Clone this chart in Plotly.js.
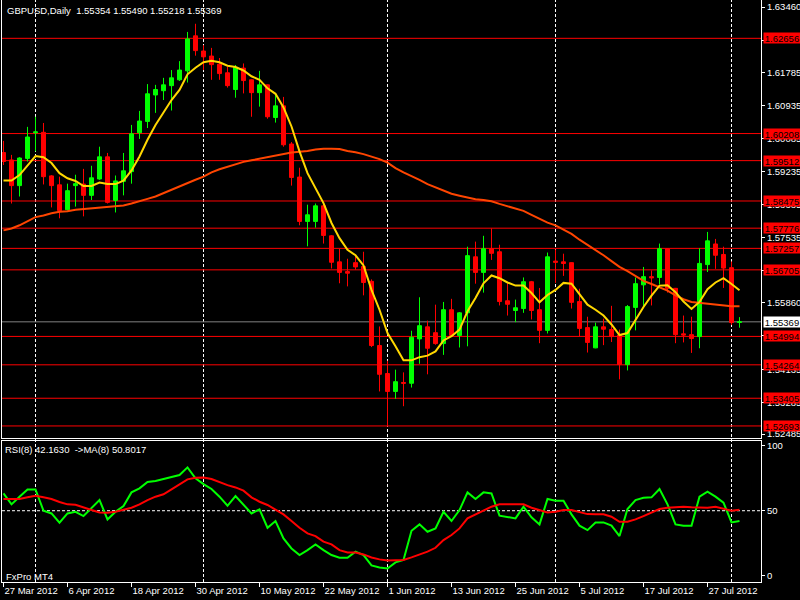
<!DOCTYPE html>
<html><head><meta charset="utf-8">
<script src="https://cdn.plot.ly/plotly-3.0.1.min.js"></script>
<style>html,body{margin:0;padding:0;background:#000;} #chart{width:800px;height:600px;}</style>
</head><body><div id="chart"></div>
<script>
const symbol = 'GBPUSD,Daily';
const openP = [1.5972,1.5953,1.5887,1.5957,1.6023,1.6024,1.5912,1.5889,1.5825,1.5887,
1.5891,1.5862,1.5904,1.5961,1.5849,1.5898,1.5923,1.6023,1.6052,1.6120,
1.6131,1.6144,1.6159,1.6182,1.6272,1.6233,1.6220,1.6199,1.6177,1.6134,
1.6189,1.6159,1.6126,1.6146,1.6062,1.6092,1.5994,1.5909,1.5795,1.5795,
1.5835,1.5758,1.5691,1.5666,1.5689,1.5679,1.5641,1.5476,1.5404,1.5358,
1.5381,1.5379,1.5493,1.5524,1.5509,1.5481,1.5568,1.5502,1.5560,1.5704,
1.5664,1.5725,1.5717,1.5591,1.5566,1.5571,1.5640,1.5568,1.5515,1.5693,
1.5691,1.5689,1.5589,1.5522,1.5470,1.5524,1.5517,1.5503,1.5427,1.5574,
1.5632,1.5653,1.5651,1.5725,1.5623,1.5506,1.5504,1.5499,1.5684,1.5737,
1.5710,1.5676,1.55354];
const highP = [1.6002,1.5966,1.5960,1.6038,1.6064,1.6048,1.5914,1.5910,1.5892,1.5915,
1.5930,1.5938,1.5987,1.5971,1.5913,1.5971,1.6043,1.6079,1.6148,1.6146,
1.6164,1.6184,1.6207,1.6282,1.6303,1.6248,1.6241,1.6215,1.6192,1.6197,
1.6201,1.6160,1.6182,1.6147,1.6123,1.6115,1.5999,1.5933,1.5838,1.5841,
1.5838,1.5760,1.5725,1.5699,1.5705,1.5717,1.5646,1.5525,1.5437,1.5414,
1.5407,1.5514,1.5600,1.5540,1.5581,1.5588,1.5596,1.5562,1.5730,1.5743,
1.5758,1.5777,1.5735,1.5636,1.5594,1.5651,1.5642,1.5624,1.5715,1.5723,
1.5712,1.5690,1.5622,1.5550,1.5535,1.5545,1.5578,1.5517,1.5580,1.5651,
1.5678,1.5669,1.5738,1.5726,1.5624,1.5553,1.5550,1.5726,1.5768,1.5750,
1.5730,1.5692,1.55490];
const lowP = [1.5940,1.5841,1.5859,1.5949,1.5975,1.5890,1.5831,1.5803,1.5823,1.5833,
1.5808,1.5850,1.5902,1.5841,1.5818,1.5862,1.5892,1.6007,1.6035,1.6074,
1.6107,1.6080,1.6156,1.6152,1.6221,1.6184,1.6159,1.6159,1.6139,1.6113,
1.6124,1.6064,1.6090,1.6059,1.6049,1.5987,1.5887,1.5785,1.5731,1.5779,
1.5738,1.5674,1.5636,1.5628,1.5671,1.5605,1.5472,1.5358,1.5268,1.5339,
1.5320,1.5368,1.5429,1.5402,1.5478,1.5452,1.5499,1.5471,1.5474,1.5635,
1.5612,1.5696,1.5579,1.5553,1.5536,1.5560,1.5543,1.5482,1.5507,1.5637,
1.5655,1.5571,1.5499,1.5458,1.5469,1.5477,1.5485,1.5389,1.5412,1.5515,
1.5575,1.5579,1.5633,1.5612,1.5482,1.5484,1.5457,1.5469,1.5665,1.5673,
1.5624,1.5529,1.55218];
const closeP = [1.5949,1.5887,1.5958,1.6012,1.6025,1.5910,1.5887,1.5823,1.5874,1.5892,
1.5862,1.5907,1.5961,1.5844,1.5899,1.5925,1.6020,1.6053,1.6123,1.6134,
1.6146,1.6164,1.6184,1.6264,1.6234,1.6218,1.6198,1.6175,1.6144,1.6191,
1.6157,1.6126,1.6146,1.6064,1.6092,1.5992,1.5908,1.5795,1.5812,1.5835,
1.5759,1.5690,1.5664,1.5662,1.5678,1.5638,1.5476,1.5402,1.5358,1.5383,
1.5379,1.5497,1.5527,1.5469,1.5481,1.5568,1.5502,1.5560,1.5707,1.5664,
1.5725,1.5713,1.5589,1.5582,1.5573,1.5640,1.5566,1.5515,1.5704,1.5690,
1.5687,1.5587,1.5520,1.5484,1.5524,1.5518,1.5499,1.5427,1.5576,1.5635,
1.5653,1.5650,1.5725,1.5623,1.5504,1.5503,1.5494,1.5687,1.5745,1.5708,
1.5675,1.5535,1.55369];
const maFast = [1.5900,1.5900,1.5914,1.5939,1.5963,1.5960,1.5945,1.5919,1.5906,1.5899,
1.5886,1.5886,1.5895,1.5891,1.5891,1.5900,1.5926,1.5962,1.6005,1.6043,
1.6076,1.6107,1.6133,1.6173,1.6190,1.6204,1.6208,1.6204,1.6195,1.6192,
1.6183,1.6168,1.6159,1.6137,1.6123,1.6088,1.6039,1.5975,1.5919,1.5880,
1.5842,1.5791,1.5752,1.5722,1.5708,1.5682,1.5619,1.5568,1.5508,1.5474,
1.5438,1.5438,1.5446,1.5450,1.5461,1.5489,1.5500,1.5517,1.5564,1.5598,
1.5636,1.5656,1.5649,1.5638,1.5630,1.5630,1.5611,1.5587,1.5606,1.5619,
1.5637,1.5635,1.5609,1.5581,1.5568,1.5553,1.5530,1.5503,1.5508,1.5542,
1.5575,1.5604,1.5630,1.5631,1.5613,1.5589,1.5570,1.5588,1.5621,1.5638,
1.5649,1.5634,1.5618];
const maSlow = [1.5772,1.5777,1.5785,1.5795,1.5806,1.5810,1.5816,1.5820,1.5821,1.5825,
1.5827,1.5828,1.5831,1.5833,1.5834,1.5836,1.5841,1.5846,1.5853,1.5859,
1.5868,1.5876,1.5885,1.5893,1.5902,1.5910,1.5921,1.5929,1.5936,1.5943,
1.5948,1.5952,1.5956,1.5959,1.5963,1.5968,1.5972,1.5974,1.5976,1.5980,
1.5982,1.5982,1.5981,1.5976,1.5973,1.5968,1.5962,1.5955,1.5946,1.5932,
1.5921,1.5912,1.5902,1.5891,1.5882,1.5874,1.5866,1.5861,1.5856,1.5852,
1.5850,1.5847,1.5840,1.5834,1.5828,1.5822,1.5812,1.5801,1.5792,1.5785,
1.5773,1.5763,1.5748,1.5735,1.5722,1.5708,1.5693,1.5678,1.5667,1.5654,
1.5642,1.5634,1.5626,1.5617,1.5605,1.5595,1.5588,1.5586,1.5584,1.5581,
1.5579,1.5577,1.5577];
const rsi = [63.3,54.9,60.8,66.4,66.4,50.0,47.9,40.8,47.9,49.2,
45.9,51.8,58.2,43.3,49.2,53.6,64.1,67.2,72.1,72.8,
74.4,75.6,77.4,83.3,74.9,70.5,66.7,60.8,53.8,61.3,
54.4,47.9,51.0,36.9,42.1,28.7,21.0,15.9,19.7,24.1,
19.7,15.9,13.8,13.8,18.5,15.9,7.9,6.4,5.6,10.3,
12.1,34.6,39.5,33.8,36.4,49.2,42.1,50.5,64.1,59.0,
64.1,63.3,46.2,45.4,44.1,53.1,44.9,39.5,59.0,57.7,
57.7,47.2,38.5,35.1,41.0,41.0,38.5,30.5,51.3,58.2,
60.0,60.3,66.7,54.9,39.5,38.5,38.5,60.8,64.6,60.8,
56.2,41.0,42.1630];
const rsiMa = [59.0,59.0,59.0,60.3,61.5,60.3,59.0,56.7,54.9,54.6,
52.3,50.5,48.7,48.5,49.2,50.5,52.3,54.9,58.2,60.8,
62.6,66.4,70.5,74.1,75.4,75.6,74.4,71.8,69.7,67.9,
65.4,60.3,56.9,54.4,51.0,47.2,42.1,36.9,32.6,30.5,
26.2,24.1,19.7,17.9,17.9,16.4,14.1,12.6,11.8,11.8,
12.1,14.1,16.4,18.5,21.5,27.4,31.3,36.4,44.1,47.2,
50.5,53.1,54.9,54.9,54.9,54.9,52.3,50.5,48.7,49.2,
50.5,50.5,49.2,47.4,47.2,47.2,45.4,41.5,41.5,43.3,
45.9,48.7,51.3,52.3,52.6,53.1,52.6,52.3,52.3,53.1,
51.3,50.0,50.8017];
const dateTickBars = [0,8,16,24,32,40,48,56,64,72,80,88];
const dateTickLabels = ['27 Mar 2012','6 Apr 2012','18 Apr 2012','30 Apr 2012','10 May 2012','22 May 2012',
  '1 Jun 2012','13 Jun 2012','25 Jun 2012','5 Jul 2012','17 Jul 2012','27 Jul 2012'];
const monthStartBars = [4,25,48,69,91];
const priceTicks = [1.63460,1.62610,1.61785,1.60935,1.60085,1.59235,1.58385,1.57535,1.56685,1.55860,1.55010,1.54135,1.53285,1.52485];
const levels = [1.62656,1.60208,1.59512,1.58475,1.57776,1.57257,1.56705,1.54994,1.54264,1.53405,1.52693];
const rsiTicks = [0,50,100];
const rsiLevel = 50;

const FONT = '"Liberation Sans", Arial, sans-serif';
const FS = 9.5;
const WHITE = '#FFFFFF';
const bars = openP.map((_, i) => i);
const last = openP.length - 1;
const xr = [-0.1875, 94.6875];

const traces = [
  {type:'candlestick', x:bars, open:openP, high:highP, low:lowP, close:closeP,
   xaxis:'x', yaxis:'y', whiskerwidth:0,
   increasing:{line:{color:'#00FF00', width:1}, fillcolor:'#00FF00'},
   decreasing:{line:{color:'#FF0000', width:1}, fillcolor:'#FF0000'},
   hoverinfo:'skip'},
  {type:'scatter', mode:'lines', x:bars, y:maSlow, xaxis:'x', yaxis:'y',
   line:{color:'#FF4500', width:2}, hoverinfo:'skip'},
  {type:'scatter', mode:'lines', x:bars, y:maFast, xaxis:'x', yaxis:'y',
   line:{color:'#FFD700', width:2}, hoverinfo:'skip'},
  {type:'scatter', mode:'lines', x:bars, y:rsi, xaxis:'x2', yaxis:'y2',
   line:{color:'#00FF00', width:2}, hoverinfo:'skip'},
  {type:'scatter', mode:'lines', x:bars, y:rsiMa, xaxis:'x2', yaxis:'y2',
   line:{color:'#FF0000', width:2}, hoverinfo:'skip'}
];

const shapes = [];
monthStartBars.forEach(b => shapes.push({type:'line', xref:'x', yref:'paper', x0:b, x1:b, y0:0, y1:1,
  line:{color:WHITE, width:1, dash:'3px,2px'}, layer:'below'}));
levels.forEach(v => shapes.push({type:'line', xref:'paper', yref:'y', x0:0, x1:1, y0:v, y1:v,
  line:{color:'#FF0000', width:1}, layer:'below'}));
shapes.push({type:'line', xref:'paper', yref:'y', x0:0, x1:1, y0:closeP[last], y1:closeP[last],
  line:{color:'#808080', width:1}, layer:'below'});
shapes.push({type:'line', xref:'paper', yref:'y2', x0:0, x1:1, y0:rsiLevel, y1:rsiLevel,
  line:{color:WHITE, width:1, dash:'3px,2px'}, layer:'below'});

const annotations = [];
const headerText = symbol + '\u00a0\u00a0' + [openP[last], highP[last], lowP[last], closeP[last]].map(v => v.toFixed(5)).join(' ');
annotations.push({xref:'paper', yref:'paper', x:0, y:(582-10)/582, xanchor:'left', yanchor:'middle', xshift:3,
  text:headerText, showarrow:false, font:{family:FONT, size:FS, color:WHITE}});
annotations.push({xref:'paper', yref:'paper', x:0, y:(582-449)/582, xanchor:'left', yanchor:'middle', xshift:1,
  text:'RSI(8) ' + rsi[last].toFixed(4) + '\u00a0\u00a0->MA(8) ' + rsiMa[last].toFixed(4), showarrow:false,
  font:{family:FONT, size:FS, color:WHITE}});
annotations.push({xref:'paper', yref:'paper', x:0, y:(582-576)/582, xanchor:'left', yanchor:'middle', xshift:2,
  text:'FxPro MT4', showarrow:false, font:{family:FONT, size:FS, color:WHITE}});
levels.forEach(v => annotations.push({xref:'paper', yref:'y', x:1, y:v, xanchor:'left', yanchor:'middle', xshift:2,
  text:v.toFixed(5), showarrow:false, bgcolor:'#FF0000', width:36, height:10, borderpad:0,
  font:{family:FONT, size:FS, color:'#000000'}}));
annotations.push({xref:'paper', yref:'y', x:1, y:closeP[last], xanchor:'left', yanchor:'middle', xshift:2,
  text:closeP[last].toFixed(5), showarrow:false, bgcolor:WHITE, width:36, height:10, borderpad:0,
  font:{family:FONT, size:FS, color:'#000000'}});

const tickFont = {family:FONT, size:FS, color:WHITE};
const layout = {
  width:800, height:600, margin:{l:2, r:39, t:0, b:18},
  paper_bgcolor:'#000000', plot_bgcolor:'#000000', showlegend:false, hovermode:false,
  boxgap:0.5, boxgroupgap:0,
  xaxis:{domain:[0,1], anchor:'y', range:xr, showticklabels:false, ticks:'', showgrid:false, zeroline:false,
    showline:true, linecolor:WHITE, linewidth:1, mirror:true, rangeslider:{visible:false}},
  yaxis:{domain:[(582-438)/582, 1], anchor:'x', side:'right', range:[1.52383, 1.63641],
    tickvals:priceTicks, ticktext:priceTicks.map(v => v.toFixed(5)), ticks:'outside', ticklen:3, tickcolor:WHITE,
    showgrid:false, zeroline:false, showline:true, linecolor:WHITE, linewidth:1, mirror:true, tickfont:tickFont},
  xaxis2:{domain:[0,1], anchor:'y2', range:xr, tickvals:dateTickBars, ticktext:dateTickLabels,
    ticks:'outside', ticklen:4, tickcolor:WHITE, ticklabelposition:'outside right', tickangle:0,
    showgrid:false, zeroline:false, showline:true, linecolor:WHITE, linewidth:1, mirror:true, tickfont:tickFont},
  yaxis2:{domain:[0, (582-441)/582], anchor:'x2', side:'right', range:[-4.8, 103.6],
    tickvals:rsiTicks, ticks:'outside', ticklen:3, tickcolor:WHITE,
    showgrid:false, zeroline:false, showline:true, linecolor:WHITE, linewidth:1, mirror:true, tickfont:tickFont},
  shapes:shapes, annotations:annotations
};
Plotly.newPlot('chart', traces, layout, {displayModeBar:false, staticPlot:true});
</script>
</body></html>
